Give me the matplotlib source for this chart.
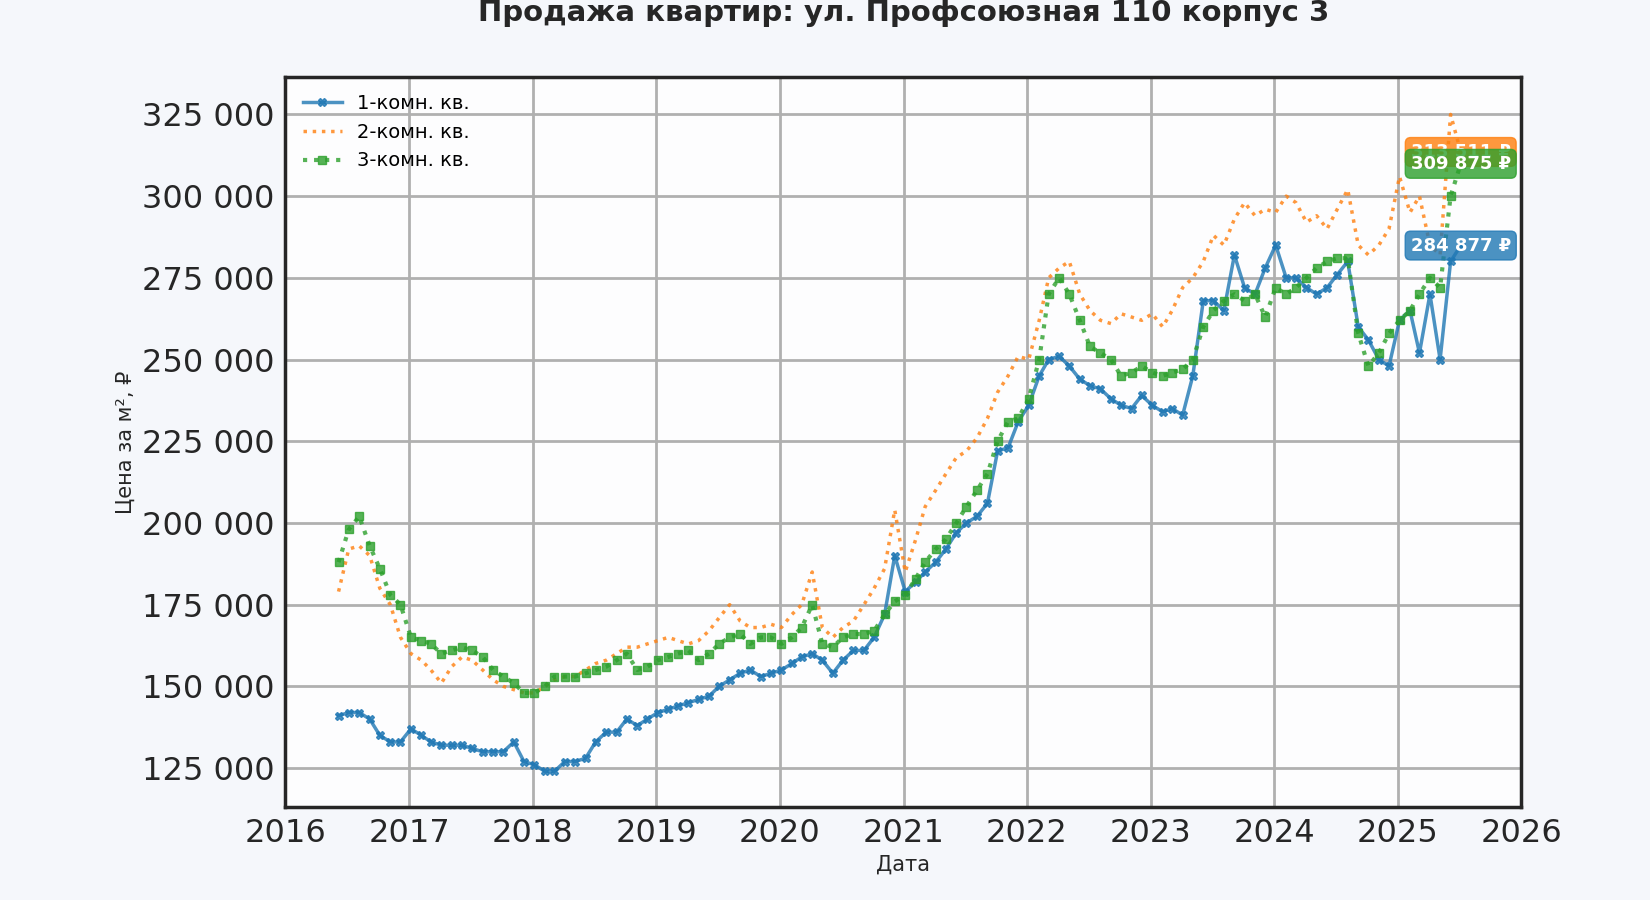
import pandas as pd
import matplotlib.pyplot as plt
import matplotlib.ticker as mticker
import matplotlib.dates as mdates

# monthly values (thousands of rubles per m2), Jun 2016 .. Jul 2025
dates = pd.date_range("2016-06-01", periods=110, freq="MS") + pd.Timedelta(days=5)

one_room = [141, 142, 142, 140, 135, 133, 133,
            137, 135, 133, 132, 132, 132, 131, 130, 130, 130, 133, 127,
            126, 124, 124, 127, 127, 128, 133, 136, 136, 140, 138, 140,
            142, 143, 144, 145, 146, 147, 150, 152, 154, 155, 153, 154,
            155, 157, 159, 160, 158, 154, 158, 161, 161, 165, 172, 190,
            179, 182, 185, 188, 192, 197, 200, 202, 206, 222, 223, 231,
            236, 245, 250, 251, 248, 244, 242, 241, 238, 236, 235, 239,
            236, 234, 235, 233, 245, 268, 268, 265, 282, 272, 270, 278,
            285, 275, 275, 272, 270, 272, 276, 280, 260, 256, 250, 248,
            262, 265, 252, 270, 250, 280, 284.877]
two_room = [179, 192, 193, 190, 180, 175, 165,
            160, 158, 155, 151, 156, 159, 158, 155, 152, 150, 149, 148,
            148, 150, 152, 153, 153, 155, 157, 158, 160, 162, 162, 163,
            164, 165, 164, 163, 164, 167, 171, 175, 170, 168, 168, 169,
            168, 172, 175, 185, 168, 165, 168, 170, 175, 180, 186, 204,
            185, 195, 205, 210, 215, 220, 222, 226, 232, 240, 245, 251,
            250, 262, 275, 278, 280, 270, 265, 262, 261, 264, 263, 262,
            264, 260, 265, 272, 275, 280, 288, 285, 293, 298, 294, 296,
            295, 300, 298, 292, 294, 290, 296, 302, 285, 282, 285, 290,
            306, 295, 300, 285, 282, 325, 313.511]
three_room = [188, 198, 202, 193, 186, 178, 175,
              165, 164, 163, 160, 161, 162, 161, 159, 155, 153, 151, 148,
              148, 150, 153, 153, 153, 154, 155, 156, 158, 160, 155, 156,
              158, 159, 160, 161, 158, 160, 163, 165, 166, 163, 165, 165,
              163, 165, 168, 175, 163, 162, 165, 166, 166, 167, 172, 176,
              178, 183, 188, 192, 195, 200, 205, 210, 215, 225, 231, 232,
              238, 250, 270, 275, 270, 262, 254, 252, 250, 245, 246, 248,
              246, 245, 246, 247, 250, 260, 265, 268, 270, 268, 270, 263,
              272, 270, 272, 275, 278, 280, 281, 281, 258, 248, 252, 258,
              262, 265, 270, 275, 272, 300, 309.875]

series = [
    ("1-комн. кв.", one_room, "#1f77b4", "-", "X", 2.5),
    ("2-комн. кв.", two_room, "#ff7f0e", ":", None, 2.5),
    ("3-комн. кв.", three_room, "#2ca02c", ":", "s", 3),
]

fig = plt.figure(figsize=(16.5, 9), dpi=100, facecolor="#f5f7fb")
ax = fig.add_axes([0.173, 0.103, 0.749, 0.812])
ax.set_facecolor("#fdfdfe")

for name, vals, col, ls, mk, lw in series:
    y = [v * 1000 for v in vals]
    ax.plot(dates, y, ls, color=col, lw=lw, marker=mk, ms=6, alpha=0.8, label=name)
    ax.text(dates[-1], y[-1], f"{y[-1]:,.0f} ₽".replace(",", " "), ha="center", va="center",
            color="white", fontsize=13, fontweight="bold",
            bbox=dict(boxstyle="round,pad=0.3", fc=col, ec=col, alpha=0.8))

ax.set_xlim(pd.Timestamp("2016-01-01"), pd.Timestamp("2026-01-01"))
ax.set_ylim(113000, 336600)
ax.xaxis.set_major_locator(mdates.YearLocator())
ax.xaxis.set_major_formatter(mdates.DateFormatter("%Y"))
ax.yaxis.set_major_locator(mticker.MultipleLocator(25000))
ax.yaxis.set_major_formatter(mticker.FuncFormatter(lambda v, p: f"{v:,.0f}".replace(",", " ")))
ax.tick_params(labelsize=23, colors="#262626", length=0, pad=8)
ax.grid(True, color="#b0b0b0", lw=2)
for s in ax.spines.values():
    s.set_color("#262626")
    s.set_linewidth(2.5)

ax.set_xlabel("Дата", fontsize=15, color="#262626")
ax.set_ylabel("Цена за м², ₽", fontsize=15, color="#262626")
ax.set_title("Продажа квартир: ул. Профсоюзная 110 корпус 3", fontsize=21,
             fontweight="bold", color="#262626", pad=40)
ax.legend(loc="upper left", frameon=False, fontsize=14)

fig.savefig("out.png", facecolor=fig.get_facecolor())
